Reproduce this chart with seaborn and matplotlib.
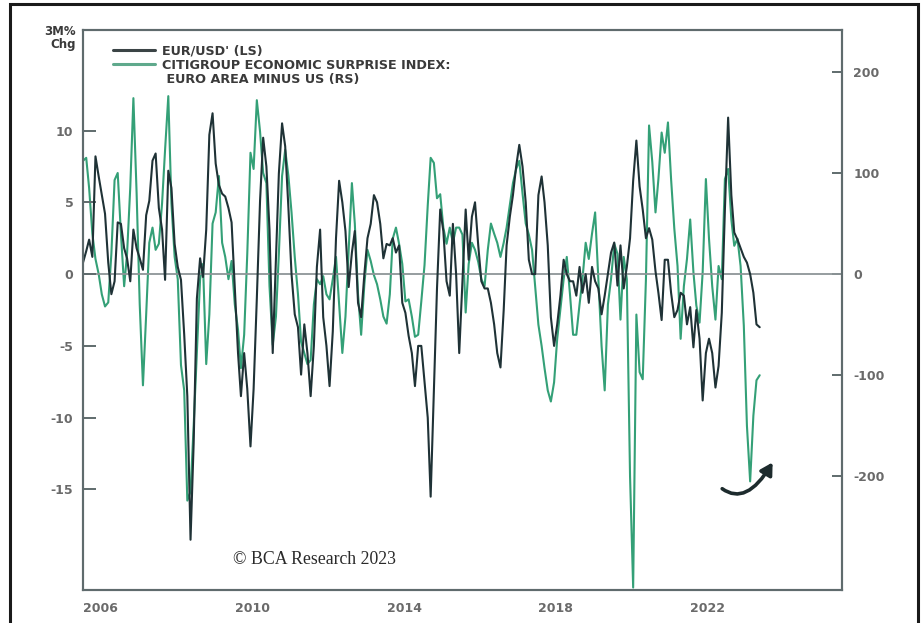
import pandas as pd
import matplotlib
matplotlib.use('Agg')
import matplotlib.pyplot as plt
from matplotlib.lines import Line2D
from matplotlib.patches import Rectangle
import seaborn as sns

# monthly readings, Jan 2006 .. Nov 2023
eur_usd = [
    0.8, 1.6, 2.4, 1.2, 8.2, 6.8, 5.5, 4.2, 0.8, -1.4, -0.5, 3.6,          # 2006
    3.5, 1.8, 1.1, -0.5, 3.1, 1.8, 1.1, 0.3, 4.1, 5.1, 7.9, 8.4,           # 2007
    4.6, 3.1, -0.4, 7.2, 6.0, 2.1, 0.5, -0.4, -4.2, -8.5, -18.5, -11.8,    # 2008
    -1.7, 1.1, -0.2, 3.1, 9.7, 11.2, 7.7, 6.2, 5.6, 5.4, 4.6, 3.6,         # 2009
    -0.9, -5.5, -8.5, -5.5, -8.0, -12.0, -8.0, -1.7, 5.1, 9.5, 7.5, 3.1,   # 2010
    -5.5, 1.0, 7.0, 10.5, 8.9, 4.6, 0.0, -2.8, -3.7, -7.0, -3.5, -5.5,     # 2011
    -8.5, -5.0, 0.5, 3.1, -3.0, -5.0, -7.8, -4.0, 2.5, 6.5, 5.0, 3.0,      # 2012
    -0.9, 1.5, 3.0, -2.0, -3.0, 0.0, 2.5, 3.5, 5.5, 5.0, 3.5, 1.1,         # 2013
    2.1, 2.0, 2.5, 1.5, 2.0, -2.0, -2.7, -4.3, -5.5, -7.8, -5.0, -5.0,     # 2014
    -7.5, -10.0, -15.5, -8.0, -1.0, 4.5, 3.0, -0.5, -1.5, 3.5, 0.0, -5.5,  # 2015
    -0.5, 4.5, 1.0, 4.0, 5.0, 2.0, -0.5, -1.0, -1.0, -2.0, -3.5, -5.5,     # 2016
    -6.5, -2.5, 2.0, 4.0, 5.5, 7.5, 9.0, 7.5, 5.0, 1.0, 0.0, 0.0,          # 2017
    5.5, 6.8, 5.0, 2.0, -3.0, -5.0, -3.5, -1.5, 1.0, 0.0, -0.5, -0.5,      # 2018
    -1.5, 0.5, -1.3, 0.0, -2.0, 0.5, -0.5, -1.0, -2.8, -1.5, 0.0, 1.5,     # 2019
    2.2, -0.8, 2.0, -1.0, 0.5, 2.5, 6.5, 9.3, 6.1, 4.5, 2.5, 3.2,          # 2020
    2.4, 0.2, -1.3, -3.2, 1.0, 1.0, -1.3, -3.0, -2.5, -1.3, -1.5, -3.5,    # 2021
    -2.3, -5.1, -2.5, -4.5, -8.8, -5.5, -4.5, -5.5, -7.9, -6.4, -2.7, 4.5, # 2022
    10.9, 5.5, 2.9, 2.4, 1.8, 1.2, 0.8, 0.0, -1.3, -3.5, -3.7,             # 2023
]

citi_surprise = [
    112, 115, 85, 40, 15, 0, -20, -32, -28, 20, 93, 100,                   # 2006
    40, -12, 20, 86, 174, 80, -30, -110, -40, 31, 46, 24,                  # 2007
    30, 70, 123, 176, 70, 17, -5, -90, -115, -224, -215, -150,             # 2008
    -78, -5, 10, -89, -40, 50, 61, 97, 31, 17, -5, 13,                     # 2009
    -30, -55, -93, -60, 20, 120, 104, 172, 141, 100, 90, -12,              # 2010
    -70, -42, 20, 97, 123, 97, 61, 17, -20, -67, -78, -89,                 # 2011
    -85, -30, -5, -10, -2, -20, -25, -5, 17, -30, -78, -42,                # 2012
    24, 90, 50, -20, -60, -10, 24, 13, -1, -10, -25, -42,                  # 2013
    -49, -20, 35, 46, 30, 10, -27, -25, -42, -62, -60, -27,                # 2014
    9, 68, 115, 110, 75, 79, 46, 30, 46, 31, 46, 46,                       # 2015
    39, -38, 10, 31, 24, 12, -5, -12, 24, 50, 40, 31,                      # 2016
    17, 31, 46, 68, 90, 104, 112, 80, 50, 39, 24, -12,                     # 2017
    -50, -71, -93, -115, -126, -107, -64, -34, -5, 17, -20, -60,           # 2018
    -60, -30, -5, 31, 15, 40, 61, -5, -71, -115, -30, -5,                  # 2019
    30, 20, -45, 17, -5, -200, -310, -40, -97, -104, -5, 147,              # 2020
    111, 61, 94, 140, 120, 150, 94, 45, 8, -64, -12, 15,                   # 2021
    54, 2, -31, -48, 2, 94, 35, -12, -45, 8, -5, 94,                       # 2022
    104, 54, 28, 35, 8, -51, -150, -205, -140, -105, -100,                 # 2023
]

year_ticks = ['2006', '2010', '2014', '2018', '2022']
left_ticks = [-15, -10, -5, 0, 5, 10]
right_ticks = [-200, -100, 0, 100, 200]

DARK = '#1f3236'
GREEN = '#34a077'
AXIS = '#5f6b6d'
LABEL = '#6a6a6a'

dates = pd.date_range('2006-01-01', periods=len(eur_usd), freq='MS')
df = pd.DataFrame({'date': dates, 'eur': eur_usd, 'citi': citi_surprise})

sns.set_style('white')
plt.rcParams['font.family'] = ['DejaVu Sans']

fig = plt.figure(figsize=(9.23, 6.23), dpi=100)
ax = fig.add_axes([83 / 923, 33 / 623, 759 / 923, 560 / 623])
ax2 = ax.twinx()

sns.lineplot(data=df, x='date', y='citi', ax=ax2, color=GREEN, lw=1.5)
sns.lineplot(data=df, x='date', y='eur', ax=ax, color=DARK, lw=1.5)
ax.set_zorder(ax2.get_zorder() + 1)
ax.patch.set_visible(False)

ax.axhline(0, color='#8d9597', lw=1.3, zorder=0)

ax.set_xlim(pd.Timestamp('2006-01-01'), pd.Timestamp('2026-01-01'))
ax.set_ylim(-22, 17)
ax2.set_ylim(-22 * 14.2, 17 * 14.2)

ax.set_xticks([pd.Timestamp(y + '-01-01') for y in year_ticks])
ax.set_xticklabels(year_ticks, ha='left')
ax.set_yticks(left_ticks)
ax.set_yticklabels([str(v) for v in left_ticks])
ax2.set_yticks(right_ticks)
ax2.set_yticklabels([str(v) for v in right_ticks])
ax.set_xlabel('')
ax.set_ylabel('')
ax2.set_ylabel('')

for a in (ax, ax2):
    for sp in a.spines.values():
        sp.set_color(AXIS)
        sp.set_linewidth(1.5)
        sp.set_visible(True)
ax.tick_params(axis='x', direction='in', length=9, width=1.4, color=AXIS,
               pad=9, labelsize=9, labelcolor=LABEL)
ax.tick_params(axis='y', direction='in', length=9, width=1.4, color=AXIS,
               pad=7, labelsize=9, labelcolor=LABEL)
ax2.tick_params(axis='y', direction='in', length=7, width=1.4, color=AXIS,
                pad=8, labelsize=9, labelcolor=LABEL)
for lab in ax.get_xticklabels() + ax.get_yticklabels() + ax2.get_yticklabels():
    lab.set_fontweight('bold')

handles = [Line2D([], [], color='#3b4446', lw=2.2),
           Line2D([], [], color='#5fa98c', lw=2.2),
           Line2D([], [], color='none')]
labels = ["EUR/USD' (LS)", 'CITIGROUP ECONOMIC SURPRISE INDEX:', ' EURO AREA MINUS US (RS)']
leg = ax.legend(handles, labels, loc='upper left', bbox_to_anchor=(0.039, 0.975),
                frameon=False, borderpad=0, borderaxespad=0, handlelength=3.3,
                handletextpad=0.6, labelspacing=0.12,
                prop={'weight': 'bold', 'size': 9.2})
for t in leg.get_texts():
    t.set_color('#3a3a3a')

fig.text(76 / 923, 1 - 38 / 623, '3M%\nChg', ha='right', va='center',
         fontsize=8.5, fontweight='bold', color='#3a3a3a', linespacing=1.05)

ax.text(0.197, 0.054, '\u00a9 BCA Research 2023', transform=ax.transAxes,
        ha='left', va='center', fontsize=12.8, family='Liberation Serif', color='#2a2a2a')

ax.annotate('', xy=(774, 163), xytext=(720, 136), xycoords='figure pixels',
            textcoords='figure pixels',
            arrowprops=dict(arrowstyle='-|>,head_length=0.7,head_width=0.4',
                            connectionstyle='angle3,angleA=-40,angleB=60',
                            color='#1d2b2d', lw=2.6))

fig.patches.append(Rectangle((10 / 923, -0.05), 908 / 923, 1.05 - 4 / 623,
                             transform=fig.transFigure, fill=False,
                             edgecolor='#1a1a1a', lw=2.2, clip_on=False))

fig.savefig('out.png', dpi=100)
